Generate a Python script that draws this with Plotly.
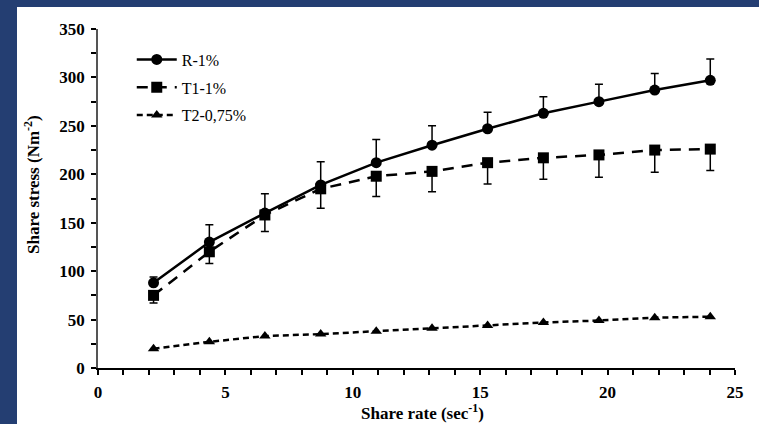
import plotly.graph_objects as go

shear_rate = [2.18, 4.37, 6.55, 8.74, 10.92, 13.11, 15.29, 17.48, 19.66, 21.85, 24.03]
r1 = [88, 130, 160, 189, 212, 230, 247, 263, 275, 287, 297]
r1_err = [6, 18, 20, 24, 24, 20, 17, 17, 18, 17, 22]
t1 = [75, 120, 158, 185, 198, 203, 212, 217, 220, 225, 226]
t1_err = [8, 12, 17, 20, 21, 21, 22, 22, 23, 23, 22]
t2 = [20, 27, 33, 35, 38, 41, 44, 47, 49, 52, 53]
x_title = "Share rate (sec<sup>-1</sup>)"
y_title = "Share stress (Nm<sup>-2</sup>)"

FONT = "'Liberation Serif', 'Times New Roman', serif"
W, H = 759, 424
L, R, T, B = 98, 24, 29, 56

fig = go.Figure()
fig.add_trace(go.Scatter(
    x=shear_rate, y=r1, name="R-1%", mode="lines+markers",
    line=dict(color="black", width=2.5),
    marker=dict(symbol="circle", size=11, color="black"),
    error_y=dict(type="data", symmetric=False, array=r1_err,
                 arrayminus=[0] * len(r1_err), color="black",
                 thickness=1.5, width=4),
    legendgroup="a"))
fig.add_trace(go.Scatter(
    x=shear_rate, y=t1, name="T1-1%", mode="lines+markers",
    line=dict(color="black", width=2.5, dash="11px,8px"),
    marker=dict(symbol="square", size=11, color="black"),
    error_y=dict(type="data", symmetric=False, array=[0] * len(t1_err),
                 arrayminus=t1_err, color="black",
                 thickness=1.5, width=4),
    legendgroup="b"))
fig.add_trace(go.Scatter(
    x=shear_rate, y=t2, name="T2-0,75%", mode="lines+markers",
    line=dict(color="black", width=2.5, dash="6px,4px"),
    marker=dict(symbol="triangle-up", size=10, color="black"),
    legendgroup="c"))

pw = W - L - R
ph = H - T - B
fig.add_shape(type="rect", xref="paper", yref="paper",
              x0=(17 - L) / pw, x1=(W + 5 - L) / pw,
              y0=-(B + 5) / ph, y1=(H - B - 7) / ph,
              fillcolor="white", line=dict(width=0), layer="below")

title_font = dict(size=17, family=FONT, weight="bold", color="black")
fig.add_annotation(text=x_title, xref="paper", yref="paper",
                   x=(422 - L) / pw, y=(H - B - 412) / ph,
                   xanchor="center", yanchor="middle", showarrow=False,
                   font=title_font)
fig.add_annotation(text=y_title, xref="paper", yref="paper",
                   x=(32 - L) / pw, y=(H - B - 185) / ph, textangle=-90,
                   xanchor="center", yanchor="middle", showarrow=False,
                   font=title_font)

fig.update_layout(
    width=W, height=H,
    margin=dict(l=L, r=R, t=T, b=B, autoexpand=False),
    paper_bgcolor="#243E72",
    plot_bgcolor="white",
    font=dict(family=FONT, color="black"),
    showlegend=True,
    legend=dict(x=0.053, y=0.96, xanchor="left", yanchor="top",
                bgcolor="rgba(0,0,0,0)", font=dict(size=16, family=FONT),
                traceorder="grouped", tracegroupgap=4, itemwidth=40),
    xaxis=dict(range=[0, 25], dtick=5, tick0=0, showgrid=False, zeroline=False,
               showline=True, linecolor="black", linewidth=1.5,
               ticks="outside", ticklen=5, tickwidth=1.5, tickcolor="black",
               minor=dict(dtick=1, ticks="outside", ticklen=5, tickwidth=1.5,
                          tickcolor="black", showgrid=False),
               ticklabelstandoff=3, automargin=False,
               tickfont=dict(size=17, family=FONT, weight="bold")),
    yaxis=dict(range=[0, 350], dtick=50, tick0=0, showgrid=False, zeroline=False,
               showline=True, linecolor="#555555", linewidth=1.5,
               ticks="outside", ticklen=5, tickwidth=1.5, tickcolor="black",
               minor=dict(dtick=25, ticks="outside", ticklen=5, tickwidth=1.5,
                          tickcolor="black", showgrid=False),
               ticklabelstandoff=3, automargin=False,
               tickfont=dict(size=17, family=FONT, weight="bold")),
)

fig.write_html("out.html")
